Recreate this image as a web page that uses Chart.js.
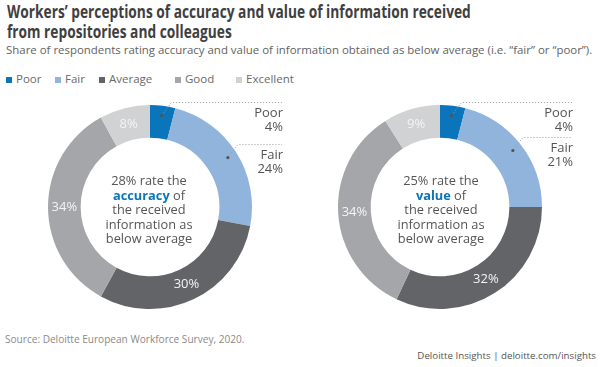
<!DOCTYPE html>
<html>
<head>
<meta charset="utf-8">
<script src="https://cdn.jsdelivr.net/npm/chart.js@4"></script>
<style>
  html, body { margin: 0; padding: 0; background: #fff; }
  body { width: 602px; height: 367px; position: relative; overflow: hidden; font-family: "Open Sans", sans-serif; }
  .abs { position: absolute; white-space: nowrap; }
  #title { left: 7px; top: 1px; font-weight: 700; font-size: 18px; line-height: 20px; color: #3f3f3f; transform-origin: 0 0; }
  #subtitle { left: 6px; top: 42px; font-size: 12px; color: #626262; }
  #legend .sw { position: absolute; width: 6px; height: 6px; top: 77px; }
  #legend .lb { position: absolute; top: 71px; font-size: 11.5px; color: #6a6a6a; line-height: 16px; }
  .center { text-align: center; font-size: 12.8px; line-height: 14.5px; color: #555; width: 150px; }
  .center b { color: #0a75bb; }
  #source { left: 5px; top: 332px; font-size: 10px; color: #8a8a8a; }
  #credit { right: 6px; top: 349px; font-size: 10px; color: #555; }
</style>
</head>
<body>
<div id="title" class="abs">Workers’ perceptions of accuracy and value of information received<br>from repositories and colleagues</div>
<div id="subtitle" class="abs">Share of respondents rating accuracy and value of information obtained as below average (i.e. “fair” or “poor”).</div>
<div id="legend"></div>

<div class="abs" style="left:0;top:95px;"><canvas id="accChart" width="296" height="225"></canvas></div>
<div class="abs" style="left:296px;top:95px;"><canvas id="valChart" width="306" height="225"></canvas></div>

<div class="abs center" style="left:74px;top:173px;">28% rate the<br><b>accuracy</b> of<br>the received<br>information as<br>below average</div>
<div class="abs center" style="left:366px;top:173px;">25% rate the<br><b>value</b> of<br>the received<br>information as<br>below average</div>

<div id="source" class="abs">Source: Deloitte European Workforce Survey, 2020.</div>
<div id="credit" class="abs">Deloitte Insights | deloitte.com/insights</div>

<script>
// ─── Dados ────────────────────────────────────────────────────────────────────
const categories     = ['Poor', 'Fair', 'Average', 'Good', 'Excellent'];
const accuracyValues = [4, 24, 30, 34, 8];
const valueValues    = [4, 21, 32, 34, 9];
const calloutCats    = ['Poor', 'Fair'];   // fatias com rótulo externo

// ─── Estilo ───────────────────────────────────────────────────────────────────
const sliceColors = ['#0a75bb', '#90b4dc', '#636468', '#a5a6a9', '#d1d2d4'];
const legendX     = [6, 55, 99, 175, 236];

// ─── Legenda HTML ─────────────────────────────────────────────────────────────
const legendElem = document.getElementById('legend');
categories.forEach((cat, i) => {
  const sw = document.createElement('div');
  sw.className = 'sw';
  sw.style.left = legendX[i] + 'px';
  sw.style.background = sliceColors[i];
  const lb = document.createElement('div');
  lb.className = 'lb';
  lb.style.left = (legendX[i] + 10) + 'px';
  lb.textContent = cat;
  legendElem.appendChild(sw);
  legendElem.appendChild(lb);
});

// Ajusta o tamanho da fonte para o texto ocupar a largura do original
function ajustaLargura(id, largura) {
  const el = document.getElementById(id);
  const size = parseFloat(getComputedStyle(el).fontSize);
  el.style.fontSize = (size * largura / el.offsetWidth).toFixed(2) + 'px';
}
ajustaLargura('subtitle', 587);
ajustaLargura('source', 240);
ajustaLargura('credit', 179);

// Título condensado: encolhe horizontalmente até a largura original
const titleElem = document.getElementById('title');
titleElem.style.transform = 'scaleX(' + (464 / titleElem.offsetWidth) + ')';

// ─── Plugin: rótulos das fatias ───────────────────────────────────────────────
const sliceLabels = {
  id: 'sliceLabels',
  afterDatasetsDraw(chart) {
    const ctx = chart.ctx;
    const meta = chart.getDatasetMeta(0);
    const values = chart.data.datasets[0].data;
    const lineEnd = chart.chartArea.right + 30;
    ctx.save();
    meta.data.forEach((arc, i) => {
      const p = arc.getProps(['x', 'y', 'startAngle', 'endAngle', 'innerRadius', 'outerRadius'], true);
      const mid = (p.startAngle + p.endAngle) / 2;
      const cat = chart.data.labels[i];
      if (calloutCats.includes(cat)) {
        const r = p.innerRadius + 0.7 * (p.outerRadius - p.innerRadius);
        const dx = p.x + Math.cos(mid) * r;
        const dy = p.y + Math.sin(mid) * r;
        const hy = dy - 13;
        ctx.strokeStyle = '#9a9a9a';
        ctx.lineWidth = 1;
        ctx.setLineDash([1, 2]);
        ctx.beginPath();
        ctx.moveTo(dx, dy);
        ctx.lineTo(dx + 10, hy);
        ctx.lineTo(lineEnd, hy);
        ctx.stroke();
        ctx.setLineDash([]);
        ctx.fillStyle = '#5a4f52';
        ctx.beginPath();
        ctx.arc(dx, dy, 1.6, 0, Math.PI * 2);
        ctx.fill();
        ctx.fillStyle = '#555';
        ctx.font = '13px "Open Sans"';
        ctx.textAlign = 'right';
        ctx.textBaseline = 'middle';
        ctx.fillText(cat, lineEnd + 1, hy + 11);
        ctx.fillText(values[i] + '%', lineEnd + 1, hy + 25);
      } else {
        const r = (p.innerRadius + p.outerRadius) / 2;
        ctx.fillStyle = '#f4f4f4';
        ctx.font = '13px "Open Sans"';
        ctx.textAlign = 'center';
        ctx.textBaseline = 'middle';
        ctx.fillText(values[i] + '%', p.x + Math.cos(mid) * r, p.y + Math.sin(mid) * r);
      }
    });
    ctx.restore();
  }
};

// ─── Configuração dos gráficos ────────────────────────────────────────────────
function criaDonut(canvasId, values, padding) {
  return new Chart(document.getElementById(canvasId), {
    type: 'doughnut',
    data: {
      labels: categories,
      datasets: [{
        data: values,
        backgroundColor: sliceColors,
        borderWidth: 0
      }]
    },
    options: {
      responsive: false,
      animation: false,
      cutout: '68%',
      layout: { padding: padding },
      plugins: {
        legend: { display: false },
        tooltip: { enabled: false }
      }
    },
    plugins: [sliceLabels]
  });
}

criaDonut('accChart', accuracyValues, { left: 48, right: 44, top: 10, bottom: 11 });
criaDonut('valChart', valueValues,    { left: 42, right: 60, top: 10, bottom: 11 });
</script>
</body>
</html>
